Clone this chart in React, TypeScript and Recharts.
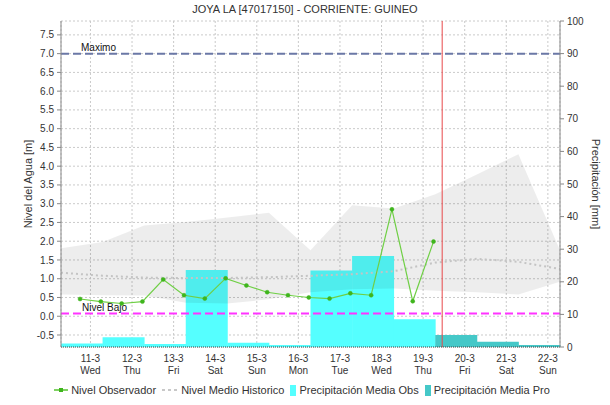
import {
  Area,
  Bar,
  CartesianGrid,
  ComposedChart,
  Line,
  ReferenceLine,
  XAxis,
  YAxis,
} from 'recharts';

// one bar per rain day (07:00 -> 07:00), hours counted from 10-3 07:00
const rainDays = ['d1', 'd2', 'd3', 'd4', 'd5', 'd6', 'd7', 'd8', 'd9', 'd10', 'd11', 'd12'];
const precipObs = [1.1, 3.0, 0.9, 23.6, 1.3, 0.6, 23.5, 27.9, 8.5, null, null, null];
const precipPro = [null, null, null, null, null, null, null, null, null, 3.7, 1.6, 0.6];

const tickHours = [17, 41, 65, 89, 113, 137, 161, 185, 209, 233, 257, 281];
const dayLabels = ['11-3', '12-3', '13-3', '14-3', '15-3', '16-3', '17-3', '18-3', '19-3', '20-3', '21-3', '22-3'];
const weekLabels = ['Wed', 'Thu', 'Fri', 'Sat', 'Sun', 'Mon', 'Tue', 'Wed', 'Thu', 'Fri', 'Sat', 'Sun'];

const obsHours = [11, 23, 35, 47, 59, 71, 83, 95, 107, 119, 131, 143, 155, 167, 179, 191, 203, 215];
const obsLevel = [0.46, 0.39, 0.34, 0.39, 0.98, 0.56, 0.47, 1.01, 0.82, 0.64, 0.56, 0.5, 0.47, 0.61, 0.56, 2.85, 0.4, 1.99];

const histHours = [0, 24, 48, 72, 96, 120, 144, 168, 192, 216, 240, 264, 288];
const histMean = [1.16, 1.08, 1.03, 1.02, 1.02, 1.04, 1.08, 1.12, 1.2, 1.43, 1.53, 1.45, 1.26];
const histMin = [0.58, 0.56, 0.55, 0.36, 0.34, 0.45, 0.64, 0.72, 0.74, 0.68, 0.64, 0.58, 0.92];
const histMax = [1.81, 1.98, 2.42, 2.51, 2.63, 2.76, 1.76, 2.96, 2.87, 3.25, 3.78, 4.32, 1.76];

const levelTicks = [-0.5, 0, 0.5, 1, 1.5, 2, 2.5, 3, 3.5, 4, 4.5, 5, 5.5, 6, 6.5, 7, 7.5];
const rainTicks = [0, 10, 20, 30, 40, 50, 60, 70, 80, 90, 100];

const NIVEL_MAX = 7.0;
const NIVEL_BAJO = 0.07;
const NOW_HOUR = 220;

const barData = rainDays.map((day, i) => ({ day, obs: precipObs[i], pro: precipPro[i] }));
const obsData = obsHours.map((t, i) => ({ t, nivel: obsLevel[i] }));
const histData = histHours.map((t, i) => ({ t, medio: histMean[i], rango: [histMin[i], histMax[i]] }));

const FONT = '"Liberation Sans", Arial, sans-serif';

function DayTick({ x, y, payload }: any) {
  const i = tickHours.indexOf(payload.value);
  return (
    <g transform={`translate(${x},${y})`}>
      <text textAnchor="middle" fontSize={10} fill="#333" fontFamily={FONT}>
        <tspan x={0} y={13}>{dayLabels[i]}</tspan>
        <tspan x={0} y={25}>{weekLabels[i]}</tspan>
      </text>
    </g>
  );
}

const legendItems = [
  { label: 'Nivel Observador', kind: 'line' },
  { label: 'Nivel Medio Historico', kind: 'dash' },
  { label: 'Precipitación Media Obs', kind: 'obs' },
  { label: 'Precipitación Media Pro', kind: 'pro' },
];

function LegendIcon({ kind }: { kind: string }) {
  if (kind === 'line')
    return (
      <svg width={14} height={10}>
        <line x1={0} y1={5} x2={14} y2={5} stroke="#55c22e" strokeWidth={1.5} />
        <rect x={5} y={3} width={4} height={4} fill="#3fb51d" />
      </svg>
    );
  if (kind === 'dash')
    return (
      <svg width={16} height={10}>
        <line x1={0} y1={5} x2={16} y2={5} stroke="#c8c8c8" strokeWidth={2} strokeDasharray="3 3" />
      </svg>
    );
  return (
    <svg width={6} height={11}>
      <rect x={0} y={0} width={6} height={11} fill={kind === 'obs' ? '#55ffff' : '#45c8c8'} />
    </svg>
  );
}

export default function App() {
  return (
    <div style={{ position: 'absolute', left: 0, top: 0, width: 610, height: 405, background: '#fff', fontFamily: FONT }}>
      <div style={{ position: 'absolute', top: 3, left: 0, width: 610, textAlign: 'center', fontSize: 11, color: '#333' }}>
        JOYA LA [47017150] - CORRIENTE: GUINEO
      </div>
      <ComposedChart
        width={610}
        height={405}
        data={barData}
        margin={{ top: 21, right: 0, bottom: 0, left: 0 }}
        barCategoryGap={0}
        barGap={0}
      >
        <CartesianGrid xAxisId="t" yAxisId="left" stroke="#cacaca" strokeDasharray="2 2" />
        <XAxis
          xAxisId="t"
          dataKey="t"
          type="number"
          domain={[0, 288]}
          allowDataOverflow
          ticks={tickHours}
          tick={<DayTick />}
          tickLine={false}
          tickSize={0}
          height={58}
          axisLine={{ stroke: '#444', strokeDasharray: '1 1' }}
          interval={0}
        />
        <XAxis xAxisId="d" dataKey="day" hide height={0} />
        <YAxis
          yAxisId="left"
          domain={[-0.82, 7.87]}
          allowDataOverflow
          ticks={levelTicks}
          tickFormatter={(v: number) => v.toFixed(1)}
          width={61}
          tickSize={4}
          tickMargin={3}
          interval={0}
          tick={{ fontSize: 10, fill: '#333', fontFamily: FONT }}
          axisLine={{ stroke: '#888' }}
          tickLine={{ stroke: '#888' }}
          label={(p: any) => {
            const vb = p.viewBox;
            const cx = vb.x + 28;
            const cy = vb.y + vb.height / 2;
            return (
              <text x={cx} y={cy} transform={`rotate(-90, ${cx}, ${cy})`} textAnchor="middle" dominantBaseline="central" fontSize={11} fill="#333" fontFamily={FONT}>
                Nivel del Agua [m]
              </text>
            );
          }}
        />
        <YAxis
          yAxisId="right"
          orientation="right"
          domain={[0, 100]}
          ticks={rainTicks}
          width={50}
          tickSize={4}
          tickMargin={3}
          interval={0}
          tick={{ fontSize: 10, fill: '#333', fontFamily: FONT }}
          axisLine={{ stroke: '#888' }}
          tickLine={{ stroke: '#888' }}
          label={(p: any) => {
            const vb = p.viewBox;
            const cx = vb.x + 36;
            const cy = vb.y + vb.height / 2;
            return (
              <text x={cx} y={cy} transform={`rotate(90, ${cx}, ${cy})`} textAnchor="middle" dominantBaseline="central" fontSize={11} fill="#333" fontFamily={FONT}>
                Precipitación [mm]
              </text>
            );
          }}
        />
        <Bar xAxisId="d" yAxisId="right" dataKey="obs" stackId="p" fill="#55ffff" isAnimationActive={false} />
        <Bar xAxisId="d" yAxisId="right" dataKey="pro" stackId="p" fill="#45c8c8" isAnimationActive={false} />
        <Area
          xAxisId="t"
          yAxisId="left"
          data={histData}
          dataKey="rango"
          type="linear"
          fill="#000"
          fillOpacity={0.07}
          stroke="none"
          isAnimationActive={false}
          zIndex={350}
        />
        <Line
          xAxisId="t"
          yAxisId="left"
          data={histData}
          dataKey="medio"
          type="linear"
          stroke="#c4c4c4"
          strokeWidth={2}
          strokeDasharray="2 3"
          dot={false}
          isAnimationActive={false}
        />
        <ReferenceLine
          xAxisId="t"
          yAxisId="left"
          y={NIVEL_MAX}
          stroke="#6b78a6"
          strokeWidth={2}
          strokeDasharray="8 4"
          label={(p: any) => (
            <text x={p.viewBox.x + 20} y={p.viewBox.y - 3} fontSize={10} fill="#111" fontFamily={FONT}>
              Maximo
            </text>
          )}
        />
        <ReferenceLine
          xAxisId="t"
          yAxisId="left"
          y={NIVEL_BAJO}
          stroke="#ff33ff"
          strokeWidth={2}
          strokeDasharray="8 4"
          label={(p: any) => (
            <text x={p.viewBox.x + 21} y={p.viewBox.y - 3} fontSize={10} fill="#111" fontFamily={FONT}>
              Nivel Bajo
            </text>
          )}
        />
        <ReferenceLine xAxisId="t" yAxisId="left" x={NOW_HOUR} stroke="#e8494a" strokeWidth={1} />
        <Line
          xAxisId="t"
          yAxisId="left"
          data={obsData}
          dataKey="nivel"
          type="linear"
          stroke="#6fcf45"
          strokeWidth={1.2}
          dot={{ r: 2, fill: '#3fb51d', stroke: '#3fb51d', strokeWidth: 0.5 }}
          isAnimationActive={false}
        />
      </ComposedChart>
      <div
        style={{
          position: 'absolute',
          top: 384,
          left: 0,
          width: 610,
          display: 'flex',
          justifyContent: 'center',
          alignItems: 'center',
          fontSize: 11,
          color: '#333',
        }}
      >
        {legendItems.map((it) => (
          <div key={it.label} style={{ display: 'flex', alignItems: 'center', marginRight: 6 }}>
            <LegendIcon kind={it.kind} />
            <span style={{ marginLeft: 3 }}>{it.label}</span>
          </div>
        ))}
      </div>
    </div>
  );
}
